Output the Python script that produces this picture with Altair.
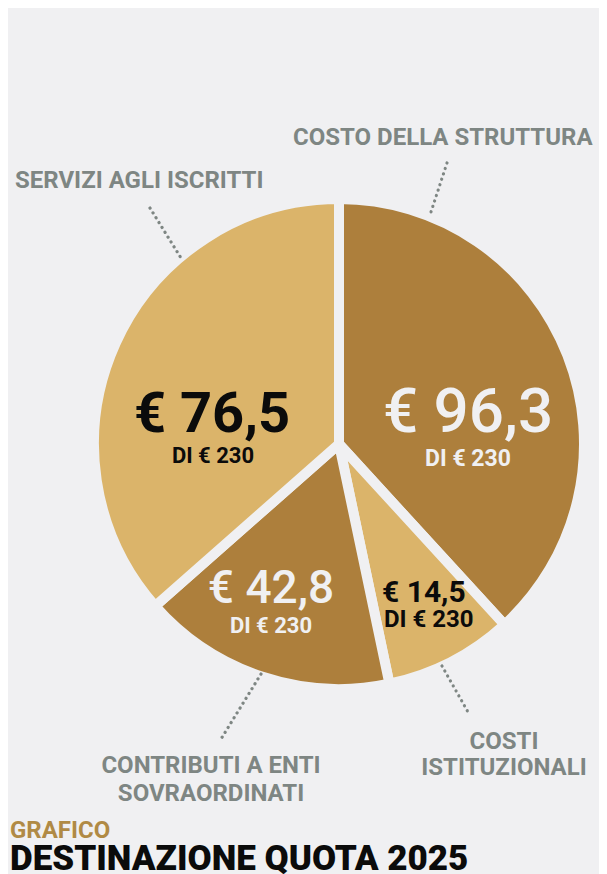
import altair as alt
import pandas as pd

# ---- data ----
categories = ["COSTO DELLA STRUTTURA", "COSTI ISTITUZIONALI",
              "CONTRIBUTI A ENTI SOVRAORDINATI", "SERVIZI AGLI ISCRITTI"]
amounts = [96.3, 14.5, 42.8, 76.5]            # euro, printed on the slices
total_amount = 230                            # "DI € 230"
slice_share = [38.2, 8.5, 16.8, 36.5]         # share of the circle as drawn (%)
tones = ["scuro", "chiaro", "scuro", "chiaro"]
callout_lines = [["COSTO DELLA STRUTTURA"], ["COSTI", "ISTITUZIONALI"],
                 ["CONTRIBUTI A ENTI", "SOVRAORDINATI"], ["SERVIZI AGLI ISCRITTI"]]
kicker = "GRAFICO"
title = "DESTINAZIONE QUOTA 2025"

df = pd.DataFrame({
    "idx": list(range(len(categories))),
    "categoria": categories,
    "importo": amounts,
    "quota": slice_share,
    "tono": tones,
})
df["label"] = ["€ " + f"{a:.1f}".replace(".", ",") for a in amounts]
df["sub"] = f"DI € {total_amount}"

# ---- style ----
BG = "#f0f0f2"
DARK = "#ad7f3c"
LIGHT = "#dbb46a"
GREY = "#7e8683"
GOLD = "#b08a45"
INK = "#0b0b0b"
FONT = "Roboto"
CX, CY = 331, 436

pie = alt.Chart(df).mark_arc(
    outerRadius=245, stroke=BG, strokeWidth=10, strokeJoin="round"
).encode(
    theta=alt.Theta("quota:Q", stack=True),
    order=alt.Order("idx:O"),
    color=alt.Color("tono:N", scale=alt.Scale(domain=["scuro", "chiaro"], range=[DARK, LIGHT]),
                    legend=None),
    x=alt.value(CX), y=alt.value(CY),
)


def slice_text(i, field, x, y, size, weight, color, align="center"):
    return alt.Chart(df).transform_filter(alt.datum.idx == i).mark_text(
        align=align, baseline="alphabetic", font=FONT, fontSize=size,
        fontWeight=weight, color=color
    ).encode(text=f"{field}:N", x=alt.value(x), y=alt.value(y))


texts = [
    slice_text(0, "label", 460, 424, 62, 500, BG),
    slice_text(0, "sub", 460, 458, 23, "bold", BG),
    slice_text(3, "label", 204, 424, 56, "bold", INK),
    slice_text(3, "sub", 205, 455, 22, "bold", INK),
    slice_text(2, "label", 263, 595, 46, 500, BG),
    slice_text(2, "sub", 263, 625, 22, "bold", BG),
    slice_text(1, "label", 374, 594, 30, "bold", INK, "left"),
    slice_text(1, "sub", 376, 619, 24, "bold", INK, "left"),
]

one = pd.DataFrame({"k": [0]})


def note(lines, x, y, align, lh=27):
    return alt.Chart(one).mark_text(
        align=align, baseline="alphabetic", font=FONT, fontSize=24, fontWeight="bold",
        color=GREY, lineHeight=lh
    ).encode(text=alt.value(lines), x=alt.value(x), y=alt.value(y))


def leader(x1, y1, x2, y2):
    return alt.Chart(one).mark_rule(
        color=GREY, strokeWidth=3.2, strokeDash=[0.1, 5.6], strokeCap="round"
    ).encode(x=alt.value(x1), y=alt.value(y1), x2=alt.value(x2), y2=alt.value(y2))


notes = [
    note(callout_lines[0], 285, 137, "left"),
    note(callout_lines[3], 7, 180, "left"),
    note(callout_lines[2], 203, 765, "center", 28),
    note(callout_lines[1], 496, 741, "center", 26),
    leader(439, 155, 423, 204),
    leader(142, 200, 173, 250),
    leader(253, 666, 213, 731),
    leader(434, 658, 460, 704),
]

heads = [
    alt.Chart(one).mark_text(align="left", baseline="alphabetic", font=FONT, fontSize=24,
                             fontWeight="bold", color=GOLD)
    .encode(text=alt.value(kicker), x=alt.value(2), y=alt.value(830)),
    alt.Chart(one).mark_text(align="left", baseline="alphabetic", font=FONT, fontSize=35,
                             fontWeight=900, color=INK)
    .encode(text=alt.value(title), x=alt.value(2), y=alt.value(862)),
]

chart = alt.layer(pie, *texts, *notes, *heads).properties(
    width=591, height=866, padding=0,
    autosize=alt.AutoSizeParams(type="none"),
    background=BG,
).configure_view(stroke=None)

chart.save("out.html", embed_options={"renderer": "svg", "actions": False})
